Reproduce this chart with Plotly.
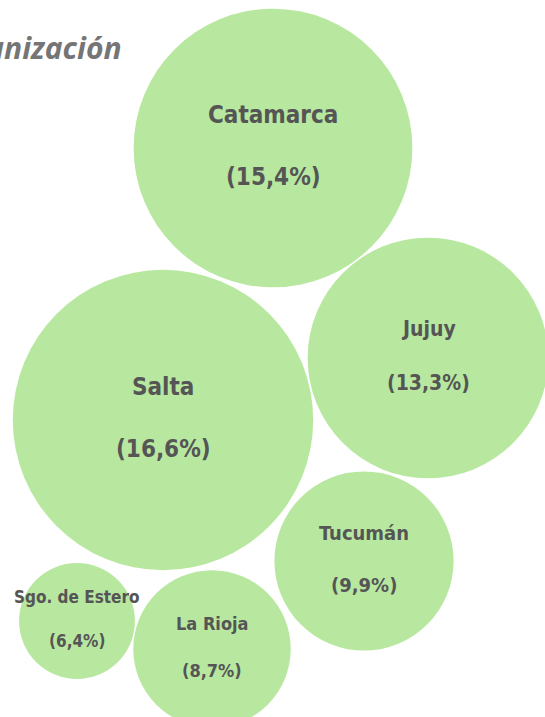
import plotly.graph_objects as go

# provincias y porcentaje
provincias = ["Catamarca", "Jujuy", "Salta", "Tucumán", "Sgo. de Estero", "La Rioja"]
porcentaje = [15.4, 13.3, 16.6, 9.9, 6.4, 8.7]
etiquetas = ["(15,4%)", "(13,3%)", "(16,6%)", "(9,9%)", "(6,4%)", "(8,7%)"]

# posiciones del layout de burbujas (en px del lienzo)
burbuja_x = [273, 428, 163, 364, 77, 212]
burbuja_y = [148, 358, 420, 561, 621, 649]
tam_fuente = [24, 21, 24, 20, 17, 18]

W, H = 545, 717
verde = "#b8e8a0"
gris = "#555555"
fuente = "Liberation Sans Narrow, DejaVu Sans Condensed, Arial Narrow, sans-serif"

fig = go.Figure()

fig.add_trace(go.Scatter(
    x=burbuja_x,
    y=burbuja_y,
    mode="markers",
    marker=dict(
        size=porcentaje,
        sizemode="diameter",
        sizeref=1 / 18.1,
        color=verde,
        opacity=1,
        line=dict(width=0),
    ),
    hovertemplate="%{text}<extra></extra>",
    text=provincias,
))

# nombre arriba, porcentaje abajo
for i in range(len(provincias)):
    f = tam_fuente[i]
    fig.add_annotation(
        x=burbuja_x[i], y=burbuja_y[i],
        text="<b>" + provincias[i] + "</b>",
        showarrow=False,
        yshift=1.3 * f + 2,
        font=dict(family=fuente, size=f, color=gris),
    )
    fig.add_annotation(
        x=burbuja_x[i], y=burbuja_y[i],
        text="<b>" + etiquetas[i] + "</b>",
        showarrow=False,
        yshift=-1.3 * f + 2,
        font=dict(family=fuente, size=f, color=gris),
    )

# titulo cortado arriba a la izquierda
fig.add_annotation(
    x=124, y=47,
    xanchor="right", yanchor="middle",
    text="<b><i>Urbanización</i></b>",
    showarrow=False,
    font=dict(family="Open Sans, sans-serif", size=30, color="#757575"),
)

fig.update_layout(
    width=W,
    height=H,
    margin=dict(l=0, r=0, t=0, b=0),
    paper_bgcolor="white",
    plot_bgcolor="white",
    showlegend=False,
    xaxis=dict(range=[0, W], visible=False, fixedrange=True),
    yaxis=dict(range=[H, 0], visible=False, fixedrange=True),
)

# sin margen del body para que el grafico llene la ventana
fig.write_html(
    "out.html",
    config={"displayModeBar": False},
    post_script="document.body.style.margin='0';document.body.style.overflow='hidden';",
)
